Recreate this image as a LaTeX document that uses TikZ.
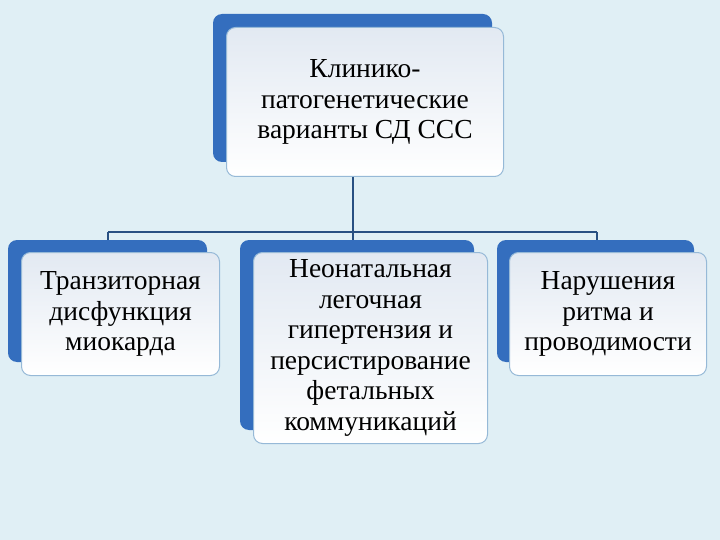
\documentclass[tikz,border=0pt]{standalone}
\usepackage{fontspec}
\setmainfont{Liberation Serif}
\begin{document}
\begin{tikzpicture}[x=1pt,y=-1pt,
  front/.style={draw=frb, line width=1pt, top color=frt, bottom color=white, rounded corners=9pt, inner sep=0pt},
  lbl/.style={align=center, font=\fontsize{27.5}{30.5}\selectfont, text=black},
  conn/.style={draw=cn, line width=1.3pt}]
\definecolor{bk}{RGB}{52,110,190}
\definecolor{bg}{RGB}{224,239,245}
\definecolor{frt}{RGB}{226,233,242}
\definecolor{frb}{RGB}{150,185,215}
\definecolor{cn}{RGB}{40,80,130}
\fill[bg] (0,0) rectangle (720,540);
\useasboundingbox (0,0) rectangle (720,540);
% top
\fill[bk, rounded corners=9pt] (213,14) rectangle (492,162);
\node[front, minimum width=277pt, minimum height=149pt, anchor=north west] (top) at (226,27) {};
\node[lbl] (toptext) at (top.center) {Клинико-\\патогенетические\\варианты СД ССС};
% box1
\fill[bk, rounded corners=9pt] (8,240) rectangle (207,362);
\node[front, minimum width=198pt, minimum height=123pt, anchor=north west] (b1) at (21,252) {};
\node[lbl] (b1t) at (b1.center) {Транзиторная\\дисфункция\\миокарда};
% box2
\fill[bk, rounded corners=9pt] (240,240) rectangle (474,430);
\node[front, minimum width=234pt, minimum height=191pt, anchor=north west] (b2) at (253,252) {};
\node[lbl] (b2t) at (b2.center) {Неонатальная\\легочная\\гипертензия и\\персистирование\\фетальных\\коммуникаций};
% box3
\fill[bk, rounded corners=9pt] (497,240) rectangle (694,362);
\node[front, minimum width=197pt, minimum height=123pt, anchor=north west] (b3) at (509,252) {};
\node[lbl] (b3t) at (b3.center) {Нарушения\\ритма и\\проводимости};
% connectors
\coordinate (j) at (353,232);
\coordinate (jl) at (108,232);
\coordinate (jr) at (597,232);
\draw[conn] (top.south -| j) -- (j);
\draw[conn] (jl) -- (jr);
\draw[conn] (jl) -- (108,240);
\draw[conn] (j) -- (353,240);
\draw[conn] (jr) -- (597,240);
\end{tikzpicture}
\end{document}
